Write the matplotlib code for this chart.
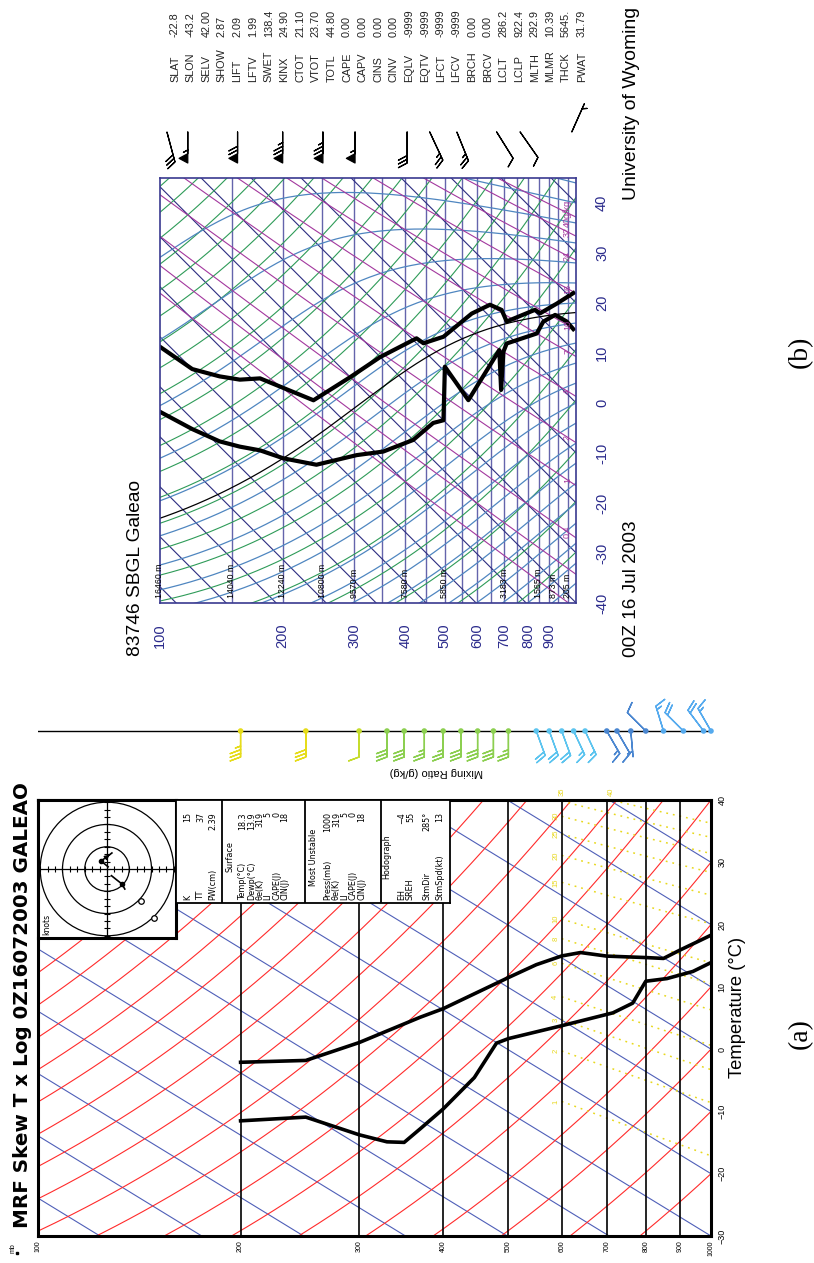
import numpy as np
import matplotlib
matplotlib.use("Agg")
import matplotlib.pyplot as plt
from matplotlib import font_manager
from matplotlib.patches import Circle

W, H = 814, 1263

# ---------------------------------------------------------------- data
# MRF forecast sounding, Galeao 00Z 16 Jul 2003 (chart a)
P_A_T = [200, 250, 300, 370, 400, 500, 550, 600, 640, 700, 800, 850, 900, 960, 1000]
T_A = [-48.3, -41.6, -33.5, -23.4, -19.8, -8.4, -3.6, 0.3, 2.7, 4.7, 8.3, 9.9, 12.9, 16.2, 18.3]
P_A_TD = [200, 250, 300, 330, 350, 370, 400, 445, 480, 500, 600, 715, 765, 800, 860, 940, 1000]
TD_A = [-57.7, -50.7, -48.3, -46.7, -45.1, -41.3, -35.9, -27.8, -20.1, -18.2, -10.9, -3.8, -0.3,
        4.5, 7.0, 10.7, 13.9]

P_A_WIND = [200, 250, 300, 330, 350, 375, 400, 425, 450, 475, 500, 550, 575, 600, 625, 650,
            700, 725, 760, 800, 850, 910, 975, 1000]
SPD_A = [35, 30, 10, 30, 30, 25, 25, 30, 30, 30, 25, 20, 20, 20, 15, 15, 15, 10, 5, 10, 15, 20, 20, 15]
DIR_A = [270, 270, 270, 270, 270, 270, 270, 270, 270, 270, 270, 250, 250, 250, 245, 245, 240, 240,
         265, 45, 73, 45, 53, 60]

MR_A = [1, 2, 3, 4, 6, 8, 10, 15, 20, 25, 30, 35, 40]

HODO_U = [1.0, 3.6, 5.5, 7.2]
HODO_V = [-0.5, 2.7, 0.0, -2.2]
HODO2_U = [-3.0, -5.0, -6.7, -9.0]
HODO2_V = [-2.0, -4.5, -6.7, -8.0]

INFO_K = [("K", "15"), ("TT", "37"), ("PW(cm)", "2.39")]
INFO_SFC = [("Temp(°C)", "18.3"), ("Dewp(°C)", "13.9"), ("θe(K)", "319"), ("LI", "5"),
            ("CAPE(J)", "0"), ("CIN(J)", "18")]
INFO_MU = [("Press(mb)", "1000"), ("θe(K)", "319"), ("LI", "5"), ("CAPE(J)", "0"), ("CIN(J)", "18")]
INFO_HODO = [("EH", "−4"), ("SREH", "55"), ("StmDir", "285°"), ("StmSpd(kt)", "13")]

# Observed sounding 83746 SBGL (chart b)
P_B_T = [100, 120, 140, 157, 176, 238, 293, 347, 426, 443, 496, 582, 645, 689, 709, 832, 856, 941, 1033]
T_B = [-72.0, -70.0, -66.0, -62.6, -58.3, -52.0, -40.0, -30.0, -19.0, -18.6, -13.3, -3.0, 2.4, 3.7,
       2.4, 10.4, 10.7, 16.0, 21.4]
P_B_TD = [100, 120, 140, 157, 176, 201, 242, 304, 353, 418, 468, 496, 500, 571, 680, 687, 696, 709,
          840, 872, 932, 995, 1033]
TD_B = [-85.0, -82.0, -79.0, -76.0, -72.7, -69.6, -64.3, -54.3, -48.3, -40.0, -32.6, -30.0, -19.0,
        -21.0, -4.8, -12.4, -4.3, -2.0, 6.0, 9.7, 13.4, 14.4, 14.2]

P_B_WIND = [104, 117, 155, 200, 251, 301, 404, 459, 535, 670, 765, 1024]
SPD_B = [30, 55, 70, 75, 75, 55, 30, 25, 25, 10, 10, 5]
DIR_B = [255, 270, 270, 270, 270, 270, 270, 245, 248, 238, 235, 114]

P_HGT = [100, 150, 200, 250, 300, 400, 500, 700, 850, 925, 1000]
HGT = [16460, 14040, 12240, 10800, 9570, 7580, 5850, 3183, 1565, 873, 205]

MR_B = [0.1, 0.2, 0.4, 1, 2, 4, 7, 10, 16, 24, 32, 40]

STAT_NAMES = ["SLAT", "SLON", "SELV", "SHOW", "LIFT", "LFTV", "SWET", "KINX", "CTOT", "VTOT",
              "TOTL", "CAPE", "CAPV", "CINS", "CINV", "EQLV", "EQTV", "LFCT", "LFCV", "BRCH",
              "BRCV", "LCLT", "LCLP", "MLTH", "MLMR", "THCK", "PWAT"]
STAT_VALUES = ["-22.8", "-43.2", "42.00", "2.87", "2.09", "1.99", "138.4", "24.90", "21.10",
               "23.70", "44.80", "0.00", "0.00", "0.00", "0.00", "-9999", "-9999", "-9999",
               "-9999", "0.00", "0.00", "286.2", "922.4", "292.9", "10.39", "5645.", "31.79"]
LCL_P, LCL_TK = 922.4, 286.2

# ---------------------------------------------------------------- setup
K_A = 28.7   # skew of the MRF chart, degC per unit ln p
K_B = 35.4   # skew of the Wyoming chart (45 degrees)

_names = {f.name for f in font_manager.fontManager.ttflist}
SANS = "Liberation Sans" if "Liberation Sans" in _names else "DejaVu Sans"
NARROW = "Liberation Sans Narrow" if "Liberation Sans Narrow" in _names else "DejaVu Sans"
SERIF = "Liberation Serif" if "Liberation Serif" in _names else "DejaVu Serif"
NAVY = "#2b2b8c"

fig = plt.figure(figsize=(W / 100, H / 100), dpi=100)
fig.patch.set_facecolor("white")


def rect(x0, y0, x1, y1):
    return [x0 / W, 1 - y1 / H, (x1 - x0) / W, (y1 - y0) / H]


def put(x, y, s, **kw):
    kw.setdefault("rotation", 90)
    kw.setdefault("rotation_mode", "anchor")
    kw.setdefault("family", SANS)
    return fig.text(x / W, 1 - y / H, s, **kw)


def fit(t, length):
    bb = t.get_window_extent(fig.canvas.get_renderer())
    t.set_fontsize(t.get_fontsize() * length / max(bb.width, bb.height))


def bare(ax):
    ax.tick_params(which="both", bottom=False, left=False, top=False, right=False,
                   labelbottom=False, labelleft=False)


def barb_length(px):
    # barb shafts scale with length**2 / 2 points
    return np.sqrt(2 * px * 72 / fig.dpi)


# thermodynamics
RD, CP, LV, EPS = 287.04, 1005.7, 2.501e6, 0.622


def es(tc):
    return 6.112 * np.exp(17.67 * tc / (tc + 243.5))


def dry_adiabat(theta, p):
    return theta * (p / 1000.0) ** (RD / CP) - 273.15


def mixing_line(w, p):
    e = w * p / (622.0 + w)
    x = np.log(e / 6.112)
    return 243.5 * x / (17.67 - x)


def _dtdp(t, p):
    e = es(t - 273.15)
    rs = EPS * e / np.maximum(p - e, 1.0)
    return (RD * t + LV * rs) / (CP + LV ** 2 * rs * EPS / (RD * t ** 2)) / p


def moist_adiabat(tc, p0, p1, n=150):
    ps = np.geomspace(p0, p1, n)
    ts = [tc + 273.15]
    for i in range(n - 1):
        h = ps[i + 1] - ps[i]
        t, p = ts[-1], ps[i]
        k1 = _dtdp(t, p)
        k2 = _dtdp(t + h * k1 / 2, p + h / 2)
        k3 = _dtdp(t + h * k2 / 2, p + h / 2)
        k4 = _dtdp(t + h * k3, p + h)
        ts.append(t + h * (k1 + 2 * k2 + 2 * k3 + k4) / 6)
    return ps, np.array(ts) - 273.15


def wind_display(spd, wdir):
    # charts are turned a quarter turn anticlockwise: north points left, east points up
    d = np.deg2rad(np.asarray(wdir, float))
    s = np.asarray(spd, float)
    u, v = -s * np.sin(d), -s * np.cos(d)
    return -v, u


# ================================================================ chart (a)
def skew_a(t, p):
    return np.asarray(t) + K_A * np.log(1000.0 / np.asarray(p))


def xa(p):
    return 38 + 292.3 * np.log(p / 100.0)


def ya(t):
    return 1236 - 6.229 * (t + 30)


ax_a = fig.add_axes(rect(38, 800, 711, 1236))
ax_a.set_xscale("log")
ax_a.set_xlim(100, 1000)
ax_a.set_ylim(-30, 40)
bare(ax_a)
for s in ax_a.spines.values():
    s.set_linewidth(2.2)

pp = np.geomspace(100, 1000, 200)
for t in range(-140, 50, 10):
    ax_a.plot(pp, skew_a(t, pp), color="#4f5fb8", lw=0.8)
for th in range(-60, 200, 10):
    ax_a.plot(pp, skew_a(dry_adiabat(th + 273.15, pp), pp), color="#ff2b2b", lw=0.8)
pm = np.geomspace(600, 1000, 60)
for w in MR_A:
    ax_a.plot(pm, skew_a(mixing_line(w, pm), pm), color="#e8d81e", lw=1.1, ls=(0, (1.2, 3.2)))
for p in range(200, 1000, 100):
    ax_a.axvline(p, color="black", lw=1.2)
ax_a.plot(P_A_T, skew_a(T_A, P_A_T), color="black", lw=2.6, solid_joinstyle="round")
ax_a.plot(P_A_TD, skew_a(TD_A, P_A_TD), color="black", lw=2.6, solid_joinstyle="round")

# mixing ratio labels
for w in MR_A:
    v600 = float(skew_a(mixing_line(w, 600.0), 600.0))
    if v600 < 39:
        put(xa(588), ya(v600), str(w), ha="center", va="center", fontsize=5.5, color="#e8d81e")
    else:
        pt = np.geomspace(600, 1000, 400)
        vv = skew_a(mixing_line(w, pt), pt)
        p_top = pt[np.argmin(np.abs(vv - 40))]
        put(xa(p_top), 792, str(w), ha="center", va="center", fontsize=5.5, color="#e8d81e")

# axis labels
for p in range(100, 1001, 100):
    put(xa(p), 1240, str(p), ha="right", va="center", fontsize=5)
put(13, 1243, "mb", ha="right", va="center", fontsize=5)
fig.add_artist(plt.Line2D([17 / W], [1 - 1253 / H], marker="s", ms=2, color="black"))
for t in range(-30, 41, 10):
    put(722, ya(t), "−%d" % -t if t < 0 else str(t), ha="center", va="center", fontsize=6.5)
t_lab = put(738, 1078, "Temperature (°C)", ha="left", va="center", fontsize=9)
fit(t_lab, 141)
title_a = put(23, 1228, "MRF Skew T x Log 0Z16072003 GALEAO", ha="left", va="center",
              fontsize=16, family=NARROW, weight="bold")
fit(title_a, 447)
put(800, 1034, "(a)", ha="center", va="center", fontsize=20, family=SERIF)

# wind column
ax_w = fig.add_axes(rect(38, 690, 711, 790))
ax_w.set_xscale("log")
ax_w.set_xlim(100, 1000)
ax_w.set_ylim(-59, 41)
ax_w.axis("off")
ax_w.plot([100, 1000], [0, 0], color="black", lw=1)


def wind_colour(p):
    if p <= 260:
        return "#e6dc1a"
    if p <= 310:
        return "#c5dc2c"
    if p <= 520:
        return "#8ccf50"
    if p <= 660:
        return "#5cc4ef"
    if p <= 820:
        return "#4a86d0"
    return "#55aaee"


wcol = [wind_colour(p) for p in P_A_WIND]
ua, va_ = wind_display(SPD_A, DIR_A)
ax_w.barbs(P_A_WIND, np.zeros(len(P_A_WIND)), ua, va_, length=barb_length(26), barbcolor=wcol,
           flagcolor=wcol, linewidth=1.0, sizes=dict(height=0.4, spacing=0.14, width=0.3),
           clip_on=False)
ax_w.scatter(P_A_WIND, np.zeros(len(P_A_WIND)), s=9, c=wcol, zorder=3, clip_on=False)
put(436, 772, "Mixing Ratio (g/kg)", rotation=180, ha="center", va="center", fontsize=8)

# hodograph inset
ax_h = fig.add_axes(rect(38, 800, 176, 938))
ax_h.set_xlim(-31, 31)
ax_h.set_ylim(-31, 31)
bare(ax_h)
for s in ax_h.spines.values():
    s.set_linewidth(2.2)
for r in (10, 20, 30):
    ax_h.add_patch(Circle((0, 0), r, fill=False, lw=0.9, color="black"))
ax_h.axhline(0, color="black", lw=0.9)
ax_h.axvline(0, color="black", lw=0.9)
ticks = np.arange(-30, 31, 10 / 3.0)
ax_h.plot(ticks, np.zeros_like(ticks), "|", color="black", ms=4, mew=0.8)
ax_h.plot(np.zeros_like(ticks), ticks, "_", color="black", ms=4, mew=0.8)
hx, hy = -np.asarray(HODO_V), np.asarray(HODO_U)
ax_h.plot(hx, hy, color="black", lw=1.2)
ax_h.plot(hx[1], hy[1], "o", color="black", ms=3)
ax_h.annotate("", xy=(hx[-1], hy[-1]), xytext=(hx[-2], hy[-2]),
              arrowprops=dict(arrowstyle="-|>", color="black", lw=1, mutation_scale=7))
hx2, hy2 = -np.asarray(HODO2_V), np.asarray(HODO2_U)
ax_h.plot(hx2, hy2, color="black", lw=1.2)
ax_h.plot(hx2[2], hy2[2], "o", color="black", ms=3)
ax_h.plot([15.2, 21.0], [-14.3, -22.0], "o", mfc="white", mec="black", ms=4, mew=0.9)
put(47, 935, "knots", ha="left", va="center", fontsize=5.5, family="DejaVu Sans")

# info table
ax_t = fig.add_axes(rect(176, 800, 450, 903))
ax_t.set_xlim(176, 450)
ax_t.set_ylim(903, 800)
bare(ax_t)
for s in ax_t.spines.values():
    s.set_linewidth(1.3)
for xs in (222, 305, 381):
    ax_t.axvline(xs, color="black", lw=1.3)

INFO_FONT = dict(fontsize=5.8, family="DejaVu Sans", va="center")


def info_rows(rows, x0, dx):
    for i, (name, val) in enumerate(rows):
        put(x0 + i * dx, 900, name, ha="left", **INFO_FONT)
        put(x0 + i * dx, 812, val, ha="right", **INFO_FONT)


info_rows(INFO_K, 188, 12.5)
put(230, 857, "Surface", ha="center", **INFO_FONT)
info_rows(INFO_SFC, 243, 8.4)
put(313, 857, "Most Unstable", ha="center", **INFO_FONT)
info_rows(INFO_MU, 328, 8.5)
put(387, 857, "Hodograph", ha="center", **INFO_FONT)
info_rows(INFO_HODO[:2], 402, 8.4)
info_rows(INFO_HODO[2:], 427, 13)


# ================================================================ chart (b)
def skew_b(t, p):
    return np.asarray(t) + K_B * np.log(1050.0 / np.asarray(p))


def xb(p):
    return 160 + 177 * np.log(p / 100.0)


def yb(v):
    return 603 - 5.0 * (v + 40)


ax_b = fig.add_axes(rect(160, 178, 576.2, 603))
ax_b.set_xscale("log")
ax_b.set_xlim(100, 1050)
ax_b.set_ylim(-40, 45)
bare(ax_b)
for s in ax_b.spines.values():
    s.set_color("#3a3a90")
    s.set_linewidth(1.2)

pb = np.geomspace(100, 1050, 220)
for p in range(150, 1050, 50):
    ax_b.axvline(p, color="#6464ac", lw=1.0)
for t in range(-140, 50, 10):
    ax_b.plot(pb, skew_b(t, pb), color="#2c2c80", lw=0.8)
for th in range(200, 520, 10):
    ax_b.plot(pb, skew_b(dry_adiabat(th, pb), pb), color="#2e9b58", lw=0.8)
for t0 in range(-40, 68, 4):
    mp, mt = moist_adiabat(t0, 1050.0, 100.0)
    ax_b.plot(mp, skew_b(mt, mp), color="#4f86c0", lw=0.9)
for w in MR_B:
    ax_b.plot(pb, skew_b(mixing_line(w, pb), pb), color="#a3389e", lw=0.8)

pu, tu = moist_adiabat(LCL_TK - 273.15, LCL_P, 100.0)
pd_, td_ = moist_adiabat(LCL_TK - 273.15, LCL_P, 1050.0, n=40)
ax_b.plot(np.r_[pd_[::-1], pu], skew_b(np.r_[td_[::-1], tu], np.r_[pd_[::-1], pu]),
          color="black", lw=0.9)
ax_b.plot(P_B_T, skew_b(T_B, P_B_T), color="black", lw=3.0, solid_joinstyle="round")
ax_b.plot(P_B_TD, skew_b(TD_B, P_B_TD), color="black", lw=3.0, solid_joinstyle="round")

for p, z in zip(P_HGT, HGT):
    put(xb(p), 598, "%d m" % z, ha="left", va="center", fontsize=6.3)
for w in MR_B[2:]:
    lab = "40g/kg" if w == 40 else ("%g" % w)
    put(xb(1000), yb(float(skew_b(mixing_line(w, 1000.0), 1000.0))), lab, ha="center",
        va="center", fontsize=6.5, color="#a3389e")
for p in range(100, 1000, 100):
    put(xb(p), 636, str(p), ha="center", va="center", fontsize=10.5, color=NAVY)
for t in range(-40, 41, 10):
    put(602, yb(t), str(t), ha="center", va="center", fontsize=10.5, color=NAVY)

tb = put(136, 656, "83746 SBGL Galeao", ha="left", va="center", fontsize=13)
fit(tb, 176)
db = put(632, 657, "00Z 16 Jul 2003", ha="left", va="center", fontsize=12)
fit(db, 136)
uw = put(632, 200, "University of Wyoming", ha="left", va="center", fontsize=13)
fit(uw, 193)
put(800, 352, "(b)", ha="center", va="center", fontsize=20, family=SERIF)

for i, (name, val) in enumerate(zip(STAT_NAMES, STAT_VALUES)):
    x = 175 + 15.64 * i
    put(x, 82, name, ha="left", va="center", fontsize=7.8, color="#222222")
    put(x, 37, val, ha="left", va="center", fontsize=7.8, color="#222222")

ax_bw = fig.add_axes(rect(160, 95, 576.2, 178))
ax_bw.set_xscale("log")
ax_bw.set_xlim(100, 1050)
ax_bw.set_ylim(-46, 37)
ax_bw.axis("off")
ub, vb = wind_display(SPD_B, DIR_B)
ax_bw.barbs(P_B_WIND, np.zeros(len(P_B_WIND)), ub, vb, length=barb_length(31), color="black",
            linewidth=0.9, sizes=dict(height=0.28, spacing=0.12, width=0.3), clip_on=False)

fig.savefig("out.png", dpi=100)
